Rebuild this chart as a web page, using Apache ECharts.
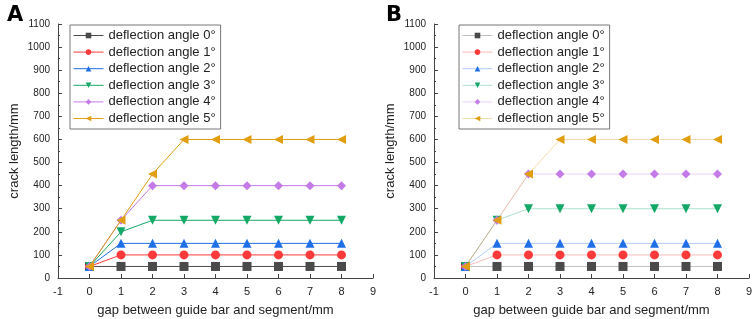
<!DOCTYPE html>
<html>
<head>
<meta charset="utf-8">
<script src="https://cdn.jsdelivr.net/npm/echarts@6/dist/echarts.min.js"></script>
<style>
  html, body { margin: 0; padding: 0; background: #fff; }
  #chart { width: 754px; height: 319px; }
</style>
</head>
<body>
<div id="chart"></div>
<script>
// gap between guide bar and segment (mm)
const gaps = [0, 1, 2, 3, 4, 5, 6, 7, 8]
const seriesNames = ['deflection angle 0°', 'deflection angle 1°', 'deflection angle 2°',
  'deflection angle 3°', 'deflection angle 4°', 'deflection angle 5°']

// panel A crack length (mm)
const a0 = [50, 50, 50, 50, 50, 50, 50, 50, 50]
const a1 = [50, 100, 100, 100, 100, 100, 100, 100, 100]
const a2 = [50, 150, 150, 150, 150, 150, 150, 150, 150]
const a3 = [50, 200, 250, 250, 250, 250, 250, 250, 250]
const a4 = [50, 250, 400, 400, 400, 400, 400, 400, 400]
const a5 = [50, 250, 450, 600, 600, 600, 600, 600, 600]

// panel B crack length (mm)
const b0 = [50, 50, 50, 50, 50, 50, 50, 50, 50]
const b1 = [50, 100, 100, 100, 100, 100, 100, 100, 100]
const b2 = [50, 150, 150, 150, 150, 150, 150, 150, 150]
const b3 = [50, 250, 300, 300, 300, 300, 300, 300, 300]
const b4 = [50, 250, 450, 450, 450, 450, 450, 450, 450]
const b5 = [50, 250, 450, 600, 600, 600, 600, 600, 600]

const xTicks = [-1, 0, 1, 2, 3, 4, 5, 6, 7, 8, 9]
const yTicks = [0, 100, 200, 300, 400, 500, 600, 700, 800, 900, 1000, 1100]

const colors = ['#4a4a4a', '#ff3a3a', '#1f6fe8', '#14a866', '#c47be8', '#e09e10']
const symbols = ['rect', 'circle', 'triangle', 'triangle', 'diamond', 'triangle']
const rotations = [0, 0, 0, 180, 0, 90]

const font = 'Liberation Sans, Arial, sans-serif'
const axisColor = '#444'

function pairs(vals) {
  return gaps.map((g, i) => [g, vals[i]])
}

function makeX(idx) {
  return {
    type: 'value', gridIndex: idx,
    min: xTicks[0], max: xTicks[xTicks.length - 1], interval: 1,
    name: 'gap between guide bar and segment/mm',
    nameLocation: 'middle', nameGap: 26,
    nameTextStyle: { color: '#222', fontSize: 13, fontFamily: font },
    axisLine: { show: true, onZero: false, lineStyle: { color: axisColor, width: 1 } },
    axisTick: { show: true, inside: true, length: 4, lineStyle: { color: axisColor } },
    axisLabel: { color: '#222', fontSize: 11, fontFamily: font, margin: 8, formatter: v => String(v) },
    splitLine: { show: false }
  }
}

function makeY(idx) {
  return {
    type: 'value', gridIndex: idx,
    min: yTicks[0], max: yTicks[yTicks.length - 1], interval: 100,
    name: 'crack length/mm',
    nameLocation: 'middle', nameGap: 37, nameRotate: 90,
    nameTextStyle: { color: '#222', fontSize: 13, fontFamily: font },
    axisLine: { show: true, onZero: false, lineStyle: { color: axisColor, width: 1 } },
    axisTick: { show: true, inside: true, length: 4, lineStyle: { color: axisColor } },
    minorTick: { show: true, splitNumber: 2, length: 2, lineStyle: { color: axisColor } },
    axisLabel: { color: '#222', fontSize: 10, fontFamily: font, margin: 8, formatter: v => String(v) },
    splitLine: { show: false }
  }
}

function makeSeries(idx, sets, lineOpacity) {
  return sets.map((vals, i) => ({
    name: seriesNames[i],
    type: 'line',
    xAxisIndex: idx, yAxisIndex: idx,
    data: pairs(vals),
    symbol: symbols[i],
    symbolSize: 9,
    symbolRotate: rotations[i],
    showAllSymbol: true,
    itemStyle: { color: colors[i] },
    lineStyle: { color: colors[i], width: 1, opacity: lineOpacity },
    z: 2 + i
  }))
}

function makeLegend(left, lineOpacity) {
  return {
    data: seriesNames,
    orient: 'vertical',
    left: left, top: 25,
    padding: [4, 5, 4, 3],
    itemWidth: 30, itemHeight: 7, itemGap: 3.6,
    borderColor: '#777', borderWidth: 1,
    lineStyle: { width: 1, opacity: lineOpacity },
    textStyle: { fontSize: 13, color: '#222', fontFamily: font }
  }
}

const chart = echarts.init(document.getElementById('chart'))
chart.setOption({
  animation: false,
  backgroundColor: '#fff',
  title: [
    { text: 'A', left: 2, top: 0, textStyle: { fontSize: 21, fontWeight: 'bold', color: '#000', fontFamily: 'DejaVu Sans, sans-serif' } },
    { text: 'B', left: 381, top: 0, textStyle: { fontSize: 21, fontWeight: 'bold', color: '#000', fontFamily: 'DejaVu Sans, sans-serif' } }
  ],
  legend: [makeLegend(70, 1), makeLegend(459, 0.35)],
  grid: [
    { left: 58, top: 24, width: 315, height: 254, outerBoundsMode: 'none' },
    { left: 434, top: 24, width: 315, height: 254, outerBoundsMode: 'none' }
  ],
  xAxis: [makeX(0), makeX(1)],
  yAxis: [makeY(0), makeY(1)],
  series: [].concat(
    makeSeries(0, [a0, a1, a2, a3, a4, a5], 1),
    makeSeries(1, [b0, b1, b2, b3, b4, b5], 0.35)
  )
})
</script>
</body>
</html>
